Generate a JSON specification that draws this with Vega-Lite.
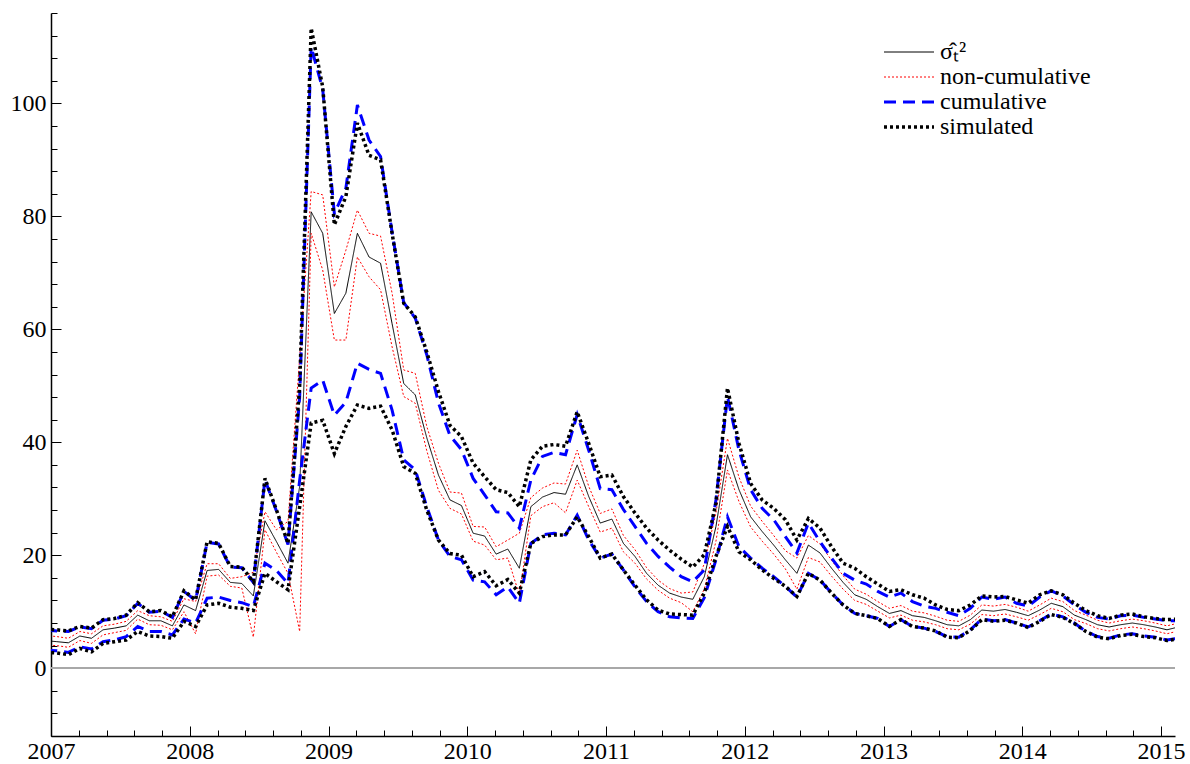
{
  "$schema": "https://vega.github.io/schema/vega-lite/v6.json",
  "width": 1124,
  "height": 723,
  "autosize": "none",
  "padding": {"left": 51, "top": 13, "right": 15, "bottom": 28},
  "background": "white",
  "config": {
    "view": {"stroke": null},
    "font": "Liberation Serif",
    "axis": {
      "title": null, "grid": false,
      "domainColor": "black", "domainWidth": 1.5,
      "tickColor": "black", "tickWidth": 1,
      "labelFont": "Liberation Serif", "labelFontSize": 24, "labelColor": "black",
      "labelOverlap": false, "labelFlush": false, "labelBound": false
    },
    "legend": {
      "title": null, "orient": "none", "legendX": 831, "legendY": 27,
      "symbolType": "stroke", "symbolSize": 2500,
      "labelFont": "Liberation Serif", "labelFontSize": 24, "labelColor": "black",
      "rowPadding": 1, "labelOffset": 4, "clipHeight": 24
    }
  },
  "data": {"values": [
    {"t": 2006.958, "s": 4.9, "nh": 5.8, "nl": 4.1, "ch": 6.8, "cl": 3.2, "sh": 6.9, "sl": 2.8},
    {"t": 2007.042, "s": 4.7, "nh": 5.6, "nl": 4.0, "ch": 6.6, "cl": 3.1, "sh": 6.8, "sl": 2.7},
    {"t": 2007.125, "s": 4.5, "nh": 5.3, "nl": 3.7, "ch": 6.5, "cl": 2.8, "sh": 6.6, "sl": 2.4},
    {"t": 2007.208, "s": 5.7, "nh": 6.5, "nl": 4.9, "ch": 7.3, "cl": 3.8, "sh": 7.4, "sl": 3.5},
    {"t": 2007.292, "s": 5.3, "nh": 6.1, "nl": 4.4, "ch": 7.0, "cl": 3.4, "sh": 7.1, "sl": 2.9},
    {"t": 2007.375, "s": 6.8, "nh": 7.5, "nl": 5.9, "ch": 8.5, "cl": 4.7, "sh": 8.6, "sl": 4.4},
    {"t": 2007.458, "s": 7.1, "nh": 7.8, "nl": 6.3, "ch": 8.7, "cl": 5.0, "sh": 8.8, "sl": 4.7},
    {"t": 2007.542, "s": 7.5, "nh": 8.3, "nl": 6.7, "ch": 9.3, "cl": 5.6, "sh": 9.4, "sl": 5.0},
    {"t": 2007.625, "s": 9.4, "nh": 10.2, "nl": 8.7, "ch": 11.5, "cl": 7.4, "sh": 11.6, "sl": 6.5},
    {"t": 2007.708, "s": 8.4, "nh": 9.3, "nl": 7.7, "ch": 9.9, "cl": 6.5, "sh": 10.0, "sl": 5.7},
    {"t": 2007.792, "s": 8.4, "nh": 9.1, "nl": 7.6, "ch": 10.1, "cl": 6.5, "sh": 10.2, "sl": 5.6},
    {"t": 2007.875, "s": 7.5, "nh": 8.3, "nl": 6.8, "ch": 9.0, "cl": 5.9, "sh": 9.1, "sl": 5.3},
    {"t": 2007.958, "s": 11.2, "nh": 12.3, "nl": 10.0, "ch": 13.6, "cl": 8.7, "sh": 13.7, "sl": 8.3},
    {"t": 2008.042, "s": 10.2, "nh": 11.8, "nl": 6.1, "ch": 12.0, "cl": 8.0, "sh": 12.1, "sl": 7.4},
    {"t": 2008.125, "s": 17.3, "nh": 18.5, "nl": 16.3, "ch": 22.3, "cl": 12.4, "sh": 22.4, "sl": 11.2},
    {"t": 2008.208, "s": 17.5, "nh": 18.5, "nl": 16.5, "ch": 22.0, "cl": 12.6, "sh": 22.1, "sl": 11.5},
    {"t": 2008.292, "s": 15.2, "nh": 15.9, "nl": 14.5, "ch": 17.9, "cl": 12.0, "sh": 18.0, "sl": 10.8},
    {"t": 2008.375, "s": 15.0, "nh": 16.2, "nl": 14.2, "ch": 17.8, "cl": 11.6, "sh": 17.9, "sl": 10.6},
    {"t": 2008.458, "s": 12.8, "nh": 17.0, "nl": 5.5, "ch": 15.2, "cl": 10.9, "sh": 15.3, "sl": 10.2},
    {"t": 2008.542, "s": 26.1, "nh": 27.7, "nl": 24.5, "ch": 33.4, "cl": 18.6, "sh": 33.6, "sl": 16.8},
    {"t": 2008.625, "s": 22.4, "nh": 24.5, "nl": 20.5, "ch": 27.8, "cl": 17.3, "sh": 28.0, "sl": 15.3},
    {"t": 2008.708, "s": 18.6, "nh": 26.0, "nl": 16.8, "ch": 21.9, "cl": 15.0, "sh": 22.1, "sl": 13.9},
    {"t": 2008.792, "s": 32.2, "nh": 55.0, "nl": 6.5, "ch": 48.0, "cl": 33.3, "sh": 50.0, "sl": 28.6},
    {"t": 2008.875, "s": 80.8, "nh": 84.4, "nl": 77.0, "ch": 110.0, "cl": 49.6, "sh": 113.3, "sl": 43.4},
    {"t": 2008.958, "s": 77.0, "nh": 83.8, "nl": 70.5, "ch": 102.5, "cl": 51.0, "sh": 102.9, "sl": 43.9},
    {"t": 2009.042, "s": 62.8, "nh": 67.5, "nl": 58.1, "ch": 80.5, "cl": 44.8, "sh": 78.5, "sl": 38.0},
    {"t": 2009.125, "s": 66.4, "nh": 74.0, "nl": 58.1, "ch": 85.0, "cl": 47.1, "sh": 83.5, "sl": 42.8},
    {"t": 2009.208, "s": 77.0, "nh": 81.1, "nl": 72.8, "ch": 99.7, "cl": 54.0, "sh": 96.5, "sl": 46.6},
    {"t": 2009.292, "s": 72.8, "nh": 77.0, "nl": 69.3, "ch": 93.5, "cl": 52.9, "sh": 90.8, "sl": 46.0},
    {"t": 2009.375, "s": 71.7, "nh": 76.5, "nl": 67.0, "ch": 90.6, "cl": 52.2, "sh": 90.0, "sl": 46.4},
    {"t": 2009.458, "s": 61.0, "nh": 66.4, "nl": 56.9, "ch": 77.2, "cl": 45.7, "sh": 77.0, "sl": 42.2},
    {"t": 2009.542, "s": 50.4, "nh": 52.8, "nl": 48.1, "ch": 64.7, "cl": 36.9, "sh": 64.6, "sl": 35.7},
    {"t": 2009.625, "s": 48.4, "nh": 52.2, "nl": 46.9, "ch": 62.0, "cl": 35.1, "sh": 62.2, "sl": 34.5},
    {"t": 2009.708, "s": 40.8, "nh": 42.8, "nl": 38.5, "ch": 55.5, "cl": 28.6, "sh": 56.0, "sl": 28.0},
    {"t": 2009.792, "s": 34.2, "nh": 36.3, "nl": 31.5, "ch": 47.0, "cl": 22.7, "sh": 49.0, "sl": 22.7},
    {"t": 2009.875, "s": 29.8, "nh": 31.2, "nl": 28.3, "ch": 41.2, "cl": 19.8, "sh": 43.0, "sl": 20.3},
    {"t": 2009.958, "s": 28.8, "nh": 31.0, "nl": 27.3, "ch": 38.7, "cl": 19.2, "sh": 41.0, "sl": 20.0},
    {"t": 2010.042, "s": 23.9, "nh": 25.1, "nl": 22.5, "ch": 33.6, "cl": 15.6, "sh": 36.3, "sl": 16.2},
    {"t": 2010.125, "s": 23.4, "nh": 25.0, "nl": 21.8, "ch": 30.7, "cl": 15.3, "sh": 33.9, "sl": 17.1},
    {"t": 2010.208, "s": 20.2, "nh": 21.5, "nl": 19.2, "ch": 27.7, "cl": 13.0, "sh": 31.6, "sl": 14.6},
    {"t": 2010.292, "s": 21.1, "nh": 22.7, "nl": 19.5, "ch": 27.5, "cl": 14.4, "sh": 31.1, "sl": 15.7},
    {"t": 2010.375, "s": 17.7, "nh": 23.9, "nl": 13.0, "ch": 24.8, "cl": 11.5, "sh": 28.6, "sl": 13.3},
    {"t": 2010.458, "s": 28.6, "nh": 30.2, "nl": 27.0, "ch": 33.3, "cl": 22.1, "sh": 36.9, "sl": 22.1},
    {"t": 2010.542, "s": 30.3, "nh": 31.9, "nl": 28.6, "ch": 37.5, "cl": 23.6, "sh": 39.3, "sl": 23.3},
    {"t": 2010.625, "s": 31.1, "nh": 32.8, "nl": 29.3, "ch": 38.2, "cl": 23.9, "sh": 39.6, "sl": 23.6},
    {"t": 2010.708, "s": 30.8, "nh": 32.6, "nl": 27.5, "ch": 37.8, "cl": 23.6, "sh": 39.3, "sl": 23.6},
    {"t": 2010.792, "s": 36.0, "nh": 38.6, "nl": 33.3, "ch": 44.9, "cl": 27.1, "sh": 45.4, "sl": 26.8},
    {"t": 2010.875, "s": 30.4, "nh": 32.2, "nl": 28.6, "ch": 38.6, "cl": 22.7, "sh": 39.8, "sl": 23.3},
    {"t": 2010.958, "s": 25.7, "nh": 27.4, "nl": 24.1, "ch": 31.8, "cl": 19.5, "sh": 33.9, "sl": 19.5},
    {"t": 2011.042, "s": 26.4, "nh": 28.2, "nl": 24.8, "ch": 31.6, "cl": 20.2, "sh": 34.2, "sl": 20.2},
    {"t": 2011.125, "s": 22.1, "nh": 23.5, "nl": 20.6, "ch": 28.1, "cl": 17.4, "sh": 30.4, "sl": 17.4},
    {"t": 2011.208, "s": 19.8, "nh": 21.0, "nl": 18.6, "ch": 25.1, "cl": 14.4, "sh": 27.5, "sl": 14.7},
    {"t": 2011.292, "s": 16.8, "nh": 17.8, "nl": 15.8, "ch": 22.1, "cl": 11.8, "sh": 24.8, "sl": 12.1},
    {"t": 2011.375, "s": 14.7, "nh": 15.6, "nl": 13.8, "ch": 19.8, "cl": 10.0, "sh": 22.7, "sl": 10.3},
    {"t": 2011.458, "s": 13.3, "nh": 14.1, "nl": 12.4, "ch": 17.9, "cl": 9.1, "sh": 20.9, "sl": 9.6},
    {"t": 2011.542, "s": 12.6, "nh": 13.3, "nl": 11.6, "ch": 16.2, "cl": 8.9, "sh": 19.3, "sl": 9.5},
    {"t": 2011.625, "s": 12.2, "nh": 13.5, "nl": 10.0, "ch": 15.3, "cl": 8.8, "sh": 17.9, "sl": 9.4},
    {"t": 2011.708, "s": 16.2, "nh": 18.5, "nl": 14.0, "ch": 17.4, "cl": 12.5, "sh": 20.1, "sl": 13.3},
    {"t": 2011.792, "s": 25.1, "nh": 27.5, "nl": 22.5, "ch": 29.8, "cl": 19.2, "sh": 29.2, "sl": 19.8},
    {"t": 2011.875, "s": 37.8, "nh": 40.7, "nl": 35.1, "ch": 48.1, "cl": 26.8, "sh": 49.6, "sl": 25.1},
    {"t": 2011.958, "s": 31.6, "nh": 33.8, "nl": 29.5, "ch": 38.6, "cl": 21.5, "sh": 39.8, "sl": 20.6},
    {"t": 2012.042, "s": 26.8, "nh": 28.7, "nl": 25.0, "ch": 31.6, "cl": 19.5, "sh": 32.7, "sl": 19.2},
    {"t": 2012.125, "s": 24.2, "nh": 26.0, "nl": 22.5, "ch": 28.3, "cl": 17.7, "sh": 29.8, "sl": 17.4},
    {"t": 2012.208, "s": 21.8, "nh": 23.5, "nl": 20.2, "ch": 26.3, "cl": 16.2, "sh": 28.3, "sl": 15.9},
    {"t": 2012.292, "s": 19.2, "nh": 20.8, "nl": 17.6, "ch": 23.3, "cl": 14.5, "sh": 26.3, "sl": 14.5},
    {"t": 2012.375, "s": 16.8, "nh": 19.5, "nl": 14.0, "ch": 20.4, "cl": 12.6, "sh": 22.7, "sl": 12.7},
    {"t": 2012.458, "s": 21.8, "nh": 23.5, "nl": 19.6, "ch": 25.7, "cl": 16.8, "sh": 26.5, "sl": 16.8},
    {"t": 2012.542, "s": 20.4, "nh": 22.0, "nl": 18.8, "ch": 22.4, "cl": 15.6, "sh": 24.8, "sl": 15.6},
    {"t": 2012.625, "s": 17.7, "nh": 19.1, "nl": 16.3, "ch": 19.5, "cl": 13.3, "sh": 21.5, "sl": 13.3},
    {"t": 2012.708, "s": 15.2, "nh": 16.4, "nl": 14.0, "ch": 16.8, "cl": 11.2, "sh": 18.6, "sl": 11.2},
    {"t": 2012.792, "s": 13.0, "nh": 14.0, "nl": 12.0, "ch": 15.6, "cl": 9.7, "sh": 17.7, "sl": 9.7},
    {"t": 2012.875, "s": 12.2, "nh": 13.1, "nl": 11.3, "ch": 14.9, "cl": 9.3, "sh": 16.2, "sl": 9.3},
    {"t": 2012.958, "s": 10.9, "nh": 11.8, "nl": 10.1, "ch": 13.6, "cl": 8.8, "sh": 14.9, "sl": 8.8},
    {"t": 2013.042, "s": 9.7, "nh": 10.6, "nl": 8.9, "ch": 12.6, "cl": 7.4, "sh": 13.6, "sl": 7.4},
    {"t": 2013.125, "s": 10.2, "nh": 11.1, "nl": 9.4, "ch": 13.3, "cl": 8.6, "sh": 13.9, "sl": 8.6},
    {"t": 2013.208, "s": 9.3, "nh": 10.1, "nl": 8.5, "ch": 11.8, "cl": 7.4, "sh": 13.0, "sl": 7.4},
    {"t": 2013.292, "s": 9.0, "nh": 9.8, "nl": 8.2, "ch": 11.0, "cl": 7.1, "sh": 12.4, "sl": 7.1},
    {"t": 2013.375, "s": 8.4, "nh": 9.2, "nl": 7.7, "ch": 10.6, "cl": 6.5, "sh": 11.2, "sl": 6.6},
    {"t": 2013.458, "s": 7.7, "nh": 8.5, "nl": 7.0, "ch": 9.9, "cl": 5.6, "sh": 10.4, "sl": 5.5},
    {"t": 2013.542, "s": 7.5, "nh": 8.3, "nl": 6.8, "ch": 9.3, "cl": 5.5, "sh": 10.2, "sl": 5.4},
    {"t": 2013.625, "s": 8.6, "nh": 9.4, "nl": 7.8, "ch": 10.6, "cl": 6.8, "sh": 11.2, "sl": 6.7},
    {"t": 2013.708, "s": 10.3, "nh": 11.2, "nl": 9.5, "ch": 12.6, "cl": 8.7, "sh": 12.8, "sl": 8.6},
    {"t": 2013.792, "s": 10.1, "nh": 11.0, "nl": 9.3, "ch": 12.2, "cl": 8.4, "sh": 12.6, "sl": 8.3},
    {"t": 2013.875, "s": 10.4, "nh": 11.3, "nl": 9.6, "ch": 12.6, "cl": 8.6, "sh": 12.7, "sl": 8.5},
    {"t": 2013.958, "s": 9.9, "nh": 10.8, "nl": 9.1, "ch": 11.5, "cl": 8.0, "sh": 12.1, "sl": 8.0},
    {"t": 2014.042, "s": 9.3, "nh": 10.1, "nl": 8.5, "ch": 11.0, "cl": 7.3, "sh": 11.5, "sl": 7.2},
    {"t": 2014.125, "s": 10.3, "nh": 11.2, "nl": 9.5, "ch": 12.6, "cl": 8.4, "sh": 13.0, "sl": 8.3},
    {"t": 2014.208, "s": 11.5, "nh": 12.4, "nl": 10.6, "ch": 13.7, "cl": 9.6, "sh": 13.7, "sl": 9.5},
    {"t": 2014.292, "s": 10.9, "nh": 11.8, "nl": 10.0, "ch": 12.8, "cl": 9.1, "sh": 13.0, "sl": 9.0},
    {"t": 2014.375, "s": 9.4, "nh": 10.2, "nl": 8.6, "ch": 11.2, "cl": 8.0, "sh": 11.5, "sl": 7.9},
    {"t": 2014.458, "s": 8.6, "nh": 9.4, "nl": 7.9, "ch": 9.9, "cl": 6.5, "sh": 10.2, "sl": 6.5},
    {"t": 2014.542, "s": 7.7, "nh": 8.5, "nl": 7.0, "ch": 9.0, "cl": 5.6, "sh": 9.3, "sl": 5.5},
    {"t": 2014.625, "s": 7.3, "nh": 8.0, "nl": 6.6, "ch": 8.7, "cl": 5.3, "sh": 8.8, "sl": 5.2},
    {"t": 2014.708, "s": 7.7, "nh": 8.4, "nl": 7.0, "ch": 9.3, "cl": 5.9, "sh": 9.4, "sl": 5.8},
    {"t": 2014.792, "s": 8.0, "nh": 8.7, "nl": 7.3, "ch": 9.4, "cl": 6.1, "sh": 9.6, "sl": 6.0},
    {"t": 2014.875, "s": 7.7, "nh": 8.4, "nl": 7.0, "ch": 9.0, "cl": 5.7, "sh": 9.1, "sl": 5.6},
    {"t": 2014.958, "s": 7.3, "nh": 8.0, "nl": 6.6, "ch": 8.7, "cl": 5.5, "sh": 8.8, "sl": 5.4},
    {"t": 2015.042, "s": 6.8, "nh": 7.5, "nl": 6.1, "ch": 8.4, "cl": 5.0, "sh": 8.6, "sl": 4.9},
    {"t": 2015.125, "s": 7.3, "nh": 8.0, "nl": 6.6, "ch": 8.4, "cl": 5.3, "sh": 8.7, "sl": 5.2}
  ]},
  "transform": [{"fold": ["s", "nh", "nl", "ch", "cl", "sh", "sl"], "as": ["key", "v"]}],
  "resolve": {"axis": {"x": "independent", "y": "independent"}},
  "layer": [
    {
      "mark": {"type": "rule", "color": "#a8a8a8", "strokeWidth": 1.5},
      "encoding": {"y": {"datum": 0, "type": "quantitative", "axis": null}}
    },
    {
      "transform": [{"filter": {"field": "key", "equal": "s"}}],
      "mark": {"type": "line", "clip": true, "strokeCap": "butt"},
      "encoding": {
        "x": {
          "field": "t", "type": "quantitative",
          "scale": {"domain": [2007, 2015.1], "nice": false, "zero": false},
          "axis": {
            "orient": "bottom",
            "values": [2007, 2008, 2009, 2010, 2011, 2012, 2013, 2014, 2015],
            "format": "d",
            "ticks": false,
            "labelPadding": 3
          }
        },
        "y": {
          "field": "v", "type": "quantitative",
          "scale": {"domain": [-12, 116], "nice": false, "zero": false},
          "axis": {
            "orient": "left",
            "values": [0, 20, 40, 60, 80, 100],
            "format": "d",
            "ticks": false,
            "labelPadding": 5,
            "labelAlign": "right",
            "labelBaseline": "middle"
          }
        },
        "detail": {"field": "key"},
        "color": {"datum": "a", "type": "nominal", "scale": {"domain": ["a", "b", "c", "d"], "range": ["#000000", "#ff0000", "#0000ff", "#000000"]},
          "legend": {"labelExpr": "datum.label == 'a' ? 'σ̂ₜ²' : datum.label == 'b' ? 'non-cumulative' : datum.label == 'c' ? 'cumulative' : 'simulated'"}},
        "strokeDash": {"datum": "a", "type": "nominal", "scale": {"domain": ["a", "b", "c", "d"], "range": [[1, 0], [2, 2], [12, 7], [3, 3]]},
          "legend": {"labelExpr": "datum.label == 'a' ? 'σ̂ₜ²' : datum.label == 'b' ? 'non-cumulative' : datum.label == 'c' ? 'cumulative' : 'simulated'"}},
        "strokeWidth": {"datum": "a", "type": "ordinal", "scale": {"type": "ordinal", "domain": ["a", "b", "c", "d"], "range": [1, 1, 3, 3.5]},
          "legend": {"labelExpr": "datum.label == 'a' ? 'σ̂ₜ²' : datum.label == 'b' ? 'non-cumulative' : datum.label == 'c' ? 'cumulative' : 'simulated'"}}
      }
    },
    {
      "transform": [{"filter": {"field": "key", "oneOf": ["nh", "nl"]}}],
      "mark": {"type": "line", "clip": true, "strokeCap": "butt"},
      "encoding": {
        "x": {"field": "t", "type": "quantitative",
          "axis": {
            "orient": "bottom", "labels": false, "domain": false,
            "values": [2007.2, 2007.4, 2007.6, 2007.8, 2008.2, 2008.4, 2008.6, 2008.8, 2009.2, 2009.4, 2009.6, 2009.8, 2010.2, 2010.4, 2010.6, 2010.8, 2011.2, 2011.4, 2011.6, 2011.8, 2012.2, 2012.4, 2012.6, 2012.8, 2013.2, 2013.4, 2013.6, 2013.8, 2014.2, 2014.4, 2014.6, 2014.8],
            "tickSize": -6
          }},
        "y": {"field": "v", "type": "quantitative",
          "axis": {
            "orient": "left", "labels": false, "domain": false,
            "values": [-12, -8, -4, 4, 8, 12, 16, 24, 28, 32, 36, 44, 48, 52, 56, 64, 68, 72, 76, 84, 88, 92, 96, 104, 108, 112, 116],
            "tickSize": -6
          }},
        "detail": {"field": "key"},
        "color": {"datum": "b", "type": "nominal", "scale": {"domain": ["a", "b", "c", "d"], "range": ["#000000", "#ff0000", "#0000ff", "#000000"]}},
        "strokeDash": {"datum": "b", "type": "nominal", "scale": {"domain": ["a", "b", "c", "d"], "range": [[1, 0], [2, 2], [12, 7], [3, 3]]}},
        "strokeWidth": {"datum": "b", "type": "ordinal", "scale": {"type": "ordinal", "domain": ["a", "b", "c", "d"], "range": [1, 1, 3, 3.5]}}
      }
    },
    {
      "transform": [{"filter": {"field": "key", "oneOf": ["ch", "cl"]}}],
      "mark": {"type": "line", "clip": true, "strokeCap": "butt"},
      "encoding": {
        "x": {"field": "t", "type": "quantitative",
          "axis": {
            "orient": "bottom", "labels": false, "domain": false,
            "values": [2007, 2008, 2009, 2010, 2011, 2012, 2013, 2014, 2015],
            "tickSize": -10
          }},
        "y": {"field": "v", "type": "quantitative",
          "axis": {
            "orient": "left", "labels": false, "domain": false,
            "values": [0, 20, 40, 60, 80, 100],
            "tickSize": -10
          }},
        "detail": {"field": "key"},
        "color": {"datum": "c", "type": "nominal", "scale": {"domain": ["a", "b", "c", "d"], "range": ["#000000", "#ff0000", "#0000ff", "#000000"]}},
        "strokeDash": {"datum": "c", "type": "nominal", "scale": {"domain": ["a", "b", "c", "d"], "range": [[1, 0], [2, 2], [12, 7], [3, 3]]}},
        "strokeWidth": {"datum": "c", "type": "ordinal", "scale": {"type": "ordinal", "domain": ["a", "b", "c", "d"], "range": [1, 1, 3, 3.5]}}
      }
    },
    {
      "transform": [{"filter": {"field": "key", "oneOf": ["sh", "sl"]}}],
      "mark": {"type": "line", "clip": true, "strokeCap": "butt"},
      "encoding": {
        "x": {"field": "t", "type": "quantitative", "axis": null},
        "y": {"field": "v", "type": "quantitative", "axis": null},
        "detail": {"field": "key"},
        "color": {"datum": "d", "type": "nominal", "scale": {"domain": ["a", "b", "c", "d"], "range": ["#000000", "#ff0000", "#0000ff", "#000000"]}},
        "strokeDash": {"datum": "d", "type": "nominal", "scale": {"domain": ["a", "b", "c", "d"], "range": [[1, 0], [2, 2], [12, 7], [3, 3]]}},
        "strokeWidth": {"datum": "d", "type": "ordinal", "scale": {"type": "ordinal", "domain": ["a", "b", "c", "d"], "range": [1, 1, 3, 3.5]}}
      }
    }
  ]
}
